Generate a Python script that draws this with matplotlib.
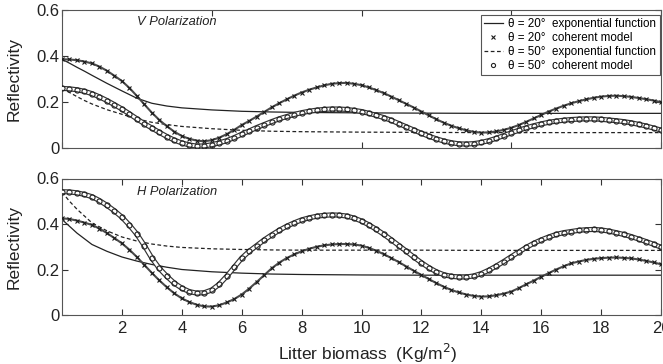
import numpy as np
import matplotlib
matplotlib.use("Agg")
import matplotlib.pyplot as plt

plt.rcParams['font.family'] = ['Liberation Sans', 'DejaVu Sans']

# ---------------- data ----------------
x_coh = [i * 0.25 for i in range(81)]

v20_coh = [0.385, 0.384, 0.381, 0.375, 0.367, 0.353, 0.335, 0.313, 0.290, 0.260,
           0.225, 0.188, 0.152, 0.120, 0.093, 0.069, 0.050, 0.038, 0.030, 0.027,
           0.032, 0.043, 0.058, 0.077, 0.098, 0.116, 0.135, 0.155, 0.175, 0.193,
           0.210, 0.226, 0.240, 0.252, 0.262, 0.271, 0.278, 0.281, 0.282, 0.278,
           0.272, 0.262, 0.250, 0.237, 0.222, 0.206, 0.190, 0.174, 0.157, 0.140,
           0.123, 0.108, 0.095, 0.084, 0.075, 0.068, 0.065, 0.066, 0.070, 0.077,
           0.086, 0.098, 0.112, 0.127, 0.142, 0.157, 0.170, 0.182, 0.193, 0.202,
           0.210, 0.217, 0.222, 0.225, 0.226, 0.224, 0.221, 0.216, 0.211, 0.205,
           0.198]

v50_coh = [0.258, 0.256, 0.252, 0.245, 0.235, 0.221, 0.205, 0.187, 0.168, 0.147,
           0.125, 0.104, 0.085, 0.066, 0.048, 0.032, 0.020, 0.011, 0.006, 0.007,
           0.012, 0.020, 0.030, 0.043, 0.058, 0.072, 0.087, 0.100, 0.113, 0.125,
           0.135, 0.144, 0.152, 0.158, 0.163, 0.166, 0.168, 0.168, 0.166, 0.162,
           0.157, 0.149, 0.140, 0.130, 0.118, 0.104, 0.090, 0.076, 0.062, 0.049,
           0.038, 0.028, 0.021, 0.016, 0.015, 0.017, 0.022, 0.030, 0.040, 0.052,
           0.064, 0.075, 0.086, 0.095, 0.103, 0.110, 0.115, 0.119, 0.122, 0.124,
           0.125, 0.125, 0.123, 0.120, 0.117, 0.113, 0.108, 0.101, 0.094, 0.085,
           0.076]

h20_coh = [0.425, 0.422, 0.415, 0.406, 0.396, 0.380, 0.360, 0.338, 0.315, 0.287,
           0.255, 0.220, 0.185, 0.152, 0.122, 0.095, 0.073, 0.057, 0.045, 0.038,
           0.037, 0.043, 0.055, 0.070, 0.090, 0.116, 0.145, 0.175, 0.205, 0.230,
           0.250, 0.266, 0.280, 0.291, 0.300, 0.306, 0.310, 0.312, 0.312, 0.310,
           0.305, 0.295, 0.282, 0.267, 0.250, 0.232, 0.213, 0.194, 0.176, 0.158,
           0.140, 0.124, 0.110, 0.099, 0.090, 0.084, 0.081, 0.082, 0.087, 0.094,
           0.103, 0.118, 0.135, 0.151, 0.168, 0.184, 0.200, 0.214, 0.227, 0.235,
           0.242, 0.247, 0.250, 0.252, 0.253, 0.251, 0.249, 0.244, 0.238, 0.231,
           0.223]

h50_coh = [0.542, 0.541, 0.537, 0.530, 0.520, 0.503, 0.482, 0.458, 0.430, 0.395,
           0.355, 0.305, 0.250, 0.205, 0.170, 0.140, 0.118, 0.103, 0.096, 0.098,
           0.110, 0.135, 0.170, 0.210, 0.250, 0.280, 0.305, 0.330, 0.352, 0.372,
           0.390, 0.405, 0.418, 0.427, 0.434, 0.438, 0.440, 0.439, 0.435, 0.426,
           0.413, 0.396, 0.376, 0.354, 0.330, 0.305, 0.280, 0.254, 0.230, 0.208,
           0.190, 0.177, 0.170, 0.167, 0.167, 0.172, 0.182, 0.197, 0.215, 0.235,
           0.256, 0.277, 0.297, 0.315, 0.330, 0.343, 0.354, 0.362, 0.367, 0.372,
           0.375, 0.376, 0.374, 0.369, 0.362, 0.354, 0.345, 0.334, 0.323, 0.311,
           0.298]

x_exp = [0, 0.25, 0.5, 0.75, 1, 1.5, 2, 2.5, 3, 3.5, 4, 5, 6, 7, 8, 10, 12, 14, 16, 18, 20]
v20_exp = [0.385, 0.368, 0.350, 0.333, 0.315, 0.280, 0.247, 0.215, 0.193, 0.181, 0.173,
           0.164, 0.158, 0.155, 0.153, 0.151, 0.150, 0.149, 0.149, 0.149, 0.149]
v50_exp = [0.258, 0.240, 0.222, 0.205, 0.190, 0.165, 0.145, 0.125, 0.110, 0.100, 0.092,
           0.082, 0.075, 0.071, 0.069, 0.067, 0.066, 0.065, 0.065, 0.065, 0.065]
h20_exp = [0.420, 0.390, 0.360, 0.335, 0.310, 0.280, 0.255, 0.237, 0.222, 0.210, 0.200,
           0.190, 0.184, 0.180, 0.178, 0.176, 0.175, 0.175, 0.175, 0.175, 0.175]
h50_exp = [0.540, 0.500, 0.465, 0.435, 0.405, 0.370, 0.343, 0.325, 0.312, 0.303, 0.297,
           0.291, 0.288, 0.286, 0.285, 0.285, 0.285, 0.284, 0.284, 0.284, 0.284]

labels = [u"\u03b8 = 20\u00b0  exponential function",
          u"\u03b8 = 20\u00b0  coherent model",
          u"\u03b8 = 50\u00b0  exponential function",
          u"\u03b8 = 50\u00b0  coherent model"]
y_ticks = [0, 0.2, 0.4, 0.6]
y_ticklabels = ["0", "0.2", "0.4", "0.6"]

# ---------------- figure ----------------
W, H = 663, 364
fig = plt.figure(figsize=(W / 100, H / 100), dpi=100)
ax1 = fig.add_axes([62 / W, 1 - 147.5 / H, 599 / W, 137.5 / H])
ax2 = fig.add_axes([62 / W, 1 - 315 / H, 599 / W, 136.5 / H])

dark = '#222222'


def draw(ax, e20, c20, e50, c50, with_legend):
    h1, = ax.plot(x_exp, e20, '-', color=dark, lw=0.9)
    # 20 deg coherent model: dense chain of small crosses
    ax.plot(x_coh, c20, '-', color='#4a4a4a', lw=1.5, zorder=3)
    h2, = ax.plot(x_coh, c20, 'x', color='#1a1a1a', ms=2.8, mew=0.8, ls='none', zorder=3)
    h3, = ax.plot(x_exp, e50, '--', color=dark, lw=0.9, dashes=(3, 2))
    # 50 deg coherent model: chain of open circles
    ax.plot(x_coh, c50, '-', color='#333333', lw=3.7, zorder=4,
            solid_capstyle='round')
    ax.plot(x_coh, c50, '-', color='white', lw=2.0, zorder=4,
            solid_capstyle='round')
    h4, = ax.plot(x_coh, c50, 'o', mfc='none', mec='#222222', ms=3.7, mew=0.8,
                  ls='none', zorder=4)
    ax.set_xlim(0, 20)
    ax.set_ylim(0, 0.6)
    ax.set_yticks(y_ticks)
    ax.set_yticklabels(y_ticklabels)
    ax.tick_params(direction='in', top=True, right=True, labelsize=12,
                   colors='#333333', labelcolor='#222222', length=4, width=0.8)
    ax.tick_params(axis='y', pad=2)
    ax.tick_params(axis='x', pad=4)
    for s in ax.spines.values():
        s.set_color('#555555')
        s.set_linewidth(0.8)
    ax.set_ylabel("Reflectivity", fontsize=12.5, color='#222222')
    ax.yaxis.set_label_coords(-0.068, 0.5)
    if with_legend:
        leg = ax.legend([h1, h2, h3, h4], labels, loc='upper right',
                        bbox_to_anchor=(1 - 1.0 / 599, 1 - 5.0 / 137.5),
                        borderaxespad=0.0, fontsize=8.4,
                        frameon=True, fancybox=False, framealpha=1,
                        edgecolor='#555555', labelspacing=0.15, handlelength=1.6,
                        handletextpad=0.5, borderpad=0.3, markerscale=0.8)
        leg.get_frame().set_linewidth(0.8)


draw(ax1, v20_exp, v20_coh, v50_exp, v50_coh, True)
ax1.set_xticks([0, 5, 10, 15, 20])
ax1.set_xticklabels([])
ax1.text(2.5, 0.549, "V Polarization", style='italic', fontsize=9.3,
         color='#222222', va='center', ha='left')

draw(ax2, h20_exp, h20_coh, h50_exp, h50_coh, False)
ax2.set_xticks([2, 4, 6, 8, 10, 12, 14, 16, 18, 20])
ax2.text(2.5, 0.542, "H Polarization", style='italic', fontsize=9.3,
         color='#222222', va='center', ha='left')
ax2.set_xlabel("Litter biomass  (Kg/m$^2$)", fontsize=12.5, color='#222222')
ax2.xaxis.set_label_coords(0.51, -0.2)

fig.savefig("out.png", dpi=100)
